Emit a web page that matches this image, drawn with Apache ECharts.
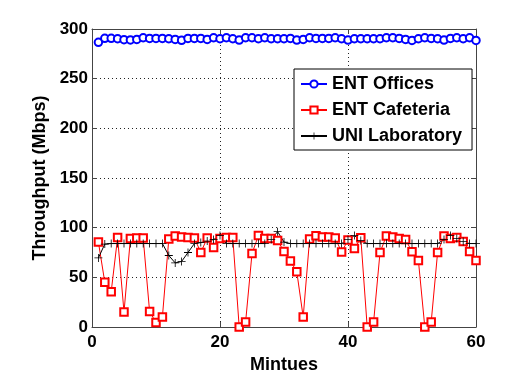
<!DOCTYPE html>
<html>
<head>
<meta charset="utf-8">
<script src="https://cdn.jsdelivr.net/npm/echarts@6/dist/echarts.min.js"></script>
<style>html,body{margin:0;padding:0;background:#fff;}#c{width:518px;height:385px;}</style>
</head>
<body>
<div id="c"></div>
<script>
var minutes = [];
for (var i = 1; i <= 60; i++) minutes.push(i);

var entOffices = [286.6,290.6,290.6,290.2,289.3,289.0,289.5,291.2,290.5,290.5,
  290.5,290.2,289.5,288.6,290.5,290.5,290.5,289.5,291.2,290.2,
  291.2,290.2,288.9,291.2,291.2,290.2,291.2,290.2,290.2,290.2,
  290.5,288.9,289.5,291.2,290.5,290.5,290.5,291.2,290.2,288.9,
  290.2,290.2,290.2,290.2,290.2,291.2,291.2,290.5,289.5,288.5,
  290.2,291.2,290.5,290.2,288.9,290.5,291.2,290.2,291.2,288.5];

var entCafeteria = [85.5,45,35.5,90,15,89,89.5,89.5,15.5,4.5,
  10,88.5,91.5,90.5,90,89.5,75,89.5,80,89,
  90,90,0,5,74,92,89,89,87,76,
  66.5,55.5,10,88.5,91.8,90.5,90.5,89.5,75.5,87.5,
  79,89.8,0,5,75,91.7,90.5,89,88,75.7,
  67,0,5,75,91.5,89,90,86,76,67];

var uniLab = [69.5,83.5,84,84,84,84,84,84,84,84,
  84,72,64.5,66,75,84,85,86.5,88,92,
  84,84,84,84,84,84,84,88,96,85.5,
  84,84,84,84,84,84,84,84,84,88,
  92,87,84,84,84,84,84,84,84,84,
  84,84,84,84,88,92,89,86,84,84];

var seriesNames = ['ENT Offices', 'ENT Cafeteria', 'UNI Laboratory'];
var xTicks = [0, 20, 40, 60];
var yTicks = [0, 50, 100, 150, 200, 250, 300];

function pairs(vals) { return minutes.map(function (m, k) { return [m, vals[k]]; }); }

var plus = 'path://M-0.5,-5 L0.5,-5 L0.5,-0.5 L5,-0.5 L5,0.5 L0.5,0.5 L0.5,5 L-0.5,5 L-0.5,0.5 L-5,0.5 L-5,-0.5 L-0.5,-0.5 Z';
var font = '"Liberation Sans", Arial, sans-serif';

var chart = echarts.init(document.getElementById('c'), null, {renderer: 'canvas'});
var axisCommon = {
  type: 'value',
  axisLine: {show: true, onZero: false, lineStyle: {color: '#444', width: 1}},
  axisTick: {show: true, inside: true, length: 5, lineStyle: {color: '#444'}}
};
chart.setOption({
  animation: false,
  backgroundColor: '#fff',
  grid: {left: 92, top: 29, right: 42, bottom: 58, containLabel: false},
  legend: {
    orient: 'vertical', left: 294, top: 69,
    backgroundColor: '#fff', borderColor: '#000', borderWidth: 1,
    padding: [6, 10, 5, 6], itemGap: 8, itemWidth: 26, itemHeight: 9,
    textStyle: {fontFamily: font, fontWeight: 'bold', fontSize: 18, color: '#000'},
    data: seriesNames
  },
  xAxis: [
    Object.assign({}, axisCommon, {
      min: xTicks[0], max: xTicks[xTicks.length - 1], interval: 20, position: 'bottom',
      name: 'Mintues', nameLocation: 'middle', nameGap: 21,
      nameTextStyle: {fontFamily: font, fontWeight: 'bold', fontSize: 18, color: '#000'},
      axisLabel: {margin: 7, fontFamily: font, fontWeight: 'bold', fontSize: 17, color: '#000'},
      splitLine: {show: true, lineStyle: {type: [1, 3], color: '#222', width: 1}}
    }),
    Object.assign({}, axisCommon, {
      min: 0, max: 60, interval: 20, position: 'top', axisLabel: {show: false}, splitLine: {show: false}
    })
  ],
  yAxis: [
    Object.assign({}, axisCommon, {
      min: yTicks[0], max: yTicks[yTicks.length - 1], interval: 50, position: 'left',
      name: 'Throughput (Mbps)', nameLocation: 'middle', nameGap: 36,
      nameTextStyle: {fontFamily: font, fontWeight: 'bold', fontSize: 18, color: '#000'},
      axisLabel: {margin: 4, fontFamily: font, fontWeight: 'bold', fontSize: 17, color: '#000'},
      splitLine: {show: true, lineStyle: {type: [1, 3], color: '#222', width: 1}}
    }),
    Object.assign({}, axisCommon, {
      min: 0, max: 300, interval: 50, position: 'right', axisLabel: {show: false}, splitLine: {show: false}
    })
  ],
  series: [
    {name: seriesNames[0], type: 'line', data: pairs(entOffices), symbol: 'emptyCircle', symbolSize: 7.5,
      itemStyle: {color: '#0000ff', borderWidth: 1}, lineStyle: {color: '#0000ff', width: 1}},
    {name: seriesNames[1], type: 'line', data: pairs(entCafeteria), symbol: 'emptyRect', symbolSize: 7.5,
      itemStyle: {color: '#ff0000', borderWidth: 1}, lineStyle: {color: '#ff0000', width: 1}},
    {name: seriesNames[2], type: 'line', data: pairs(uniLab), symbol: plus, symbolSize: 8,
      itemStyle: {color: '#000', borderWidth: 0}, lineStyle: {color: '#000', width: 1}}
  ]
});
</script>
</body>
</html>
